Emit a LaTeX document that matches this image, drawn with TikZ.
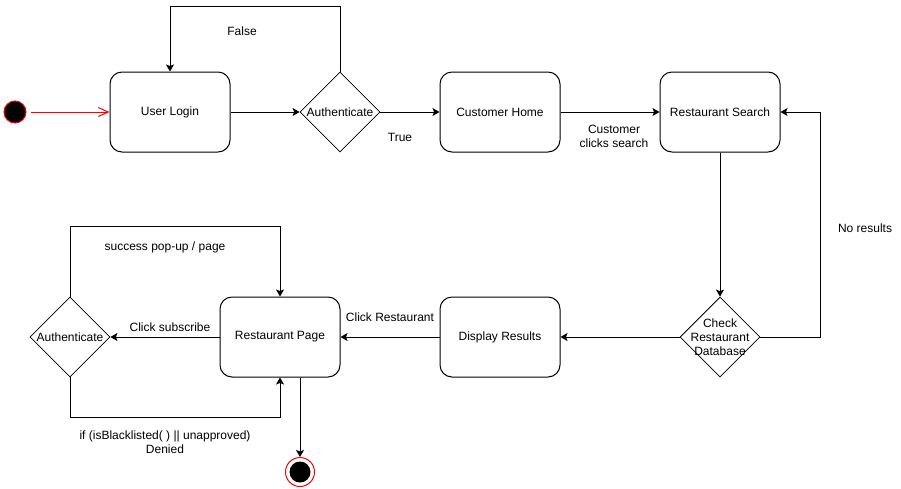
\documentclass[tikz,border=0pt]{standalone}
\usepackage{fontspec}
\setmainfont{Liberation Sans}
\usetikzlibrary{shapes.geometric,arrows.meta}

\begin{document}
\begin{tikzpicture}
      [x=1pt, y=-1pt,
       font=\fontsize{12pt}{14pt}\selectfont,
       state/.style={
           rectangle,
           rounded corners=12pt,
           draw=black, line width=1pt,
           minimum width=120pt, minimum height=80pt,
           text centered
         },
       decision/.style={
           diamond,
           draw=black, line width=0.8pt,
           minimum width=80pt, minimum height=80pt,
           inner sep=0pt
         },
       flow/.style={
           draw=black, line width=1pt,
           -{Stealth[length=7pt,width=8pt,inset=1.5pt]}
         },
       ]
    \useasboundingbox (0,0) rectangle (901,488);

    \node [circle, fill=black, draw=red, line width=1pt, minimum size=22pt, inner sep=0pt] (start) at (15,112) {};
    \node [state] (login) at (170,112) {User Login};
    \node [decision, label=center:Authenticate] (auth1) at (340,112) {};
    \node [state] (home) at (500,112) {Customer Home};
    \node [state] (search) at (720,112) {Restaurant Search};

    \node [decision, label={[align=center]center:Check\\Restaurant\\Database}] (check) at (720,337) {};
    \node [state] (results) at (500,337) {Display Results};
    \node [state] (page) at (280,337) {Restaurant Page};
    \node [decision, label=center:Authenticate] (auth2) at (70,337) {};

    \node [circle, draw=red, line width=1pt, minimum size=29pt, inner sep=0pt] (finish) at (300,472) {};
    \node [circle, fill=black, minimum size=21pt, inner sep=0pt] (finishdot) at (finish) {};

    % top row
    \draw [red, line width=1pt, shorten <=4pt, -{Straight Barb[length=10pt,width=9pt]}] (start) -- (login);
    \draw [flow] (login) -- (auth1);
    \draw [flow] (auth1.north) -- ++(0,-65) -| (login.north);
    \draw [flow] (auth1) -- (home);
    \draw [flow] (home) -- (search);
    \draw [flow] (search) -- (check);
    \draw [flow] (check.east) -- ++(60,0) |- (search.east);

    % bottom row
    \draw [flow] (check) -- (results);
    \draw [flow] (results) -- (page);
    \draw [flow] (page) -- (auth2);
    \draw [flow] (auth2.north) -- ++(0,-70) -| (page.north);
    \draw [flow] (auth2.south) -- ++(0,40) -| (page.south);
    \draw [flow] (page.south -| finish) -- (finish);

    \node (lfalse) at (242,31) {False};
    \node (ltrue) at (400,137) {True};
    \node [align=center] (lclicks) at (614,136) {Customer\\clicks search};
    \node (lnoresults) at (865,228) {No results};
    \node (lclickrest) at (390,317) {Click Restaurant};
    \node (lsubscribe) at (170,327) {Click subscribe};
    \node (lsuccess) at (165,247) {success pop-up / page};
    \node [align=center] (ldenied) at (165,442) {if (isBlacklisted( ) || unapproved)\\Denied};

  \end{tikzpicture}
\end{document}
